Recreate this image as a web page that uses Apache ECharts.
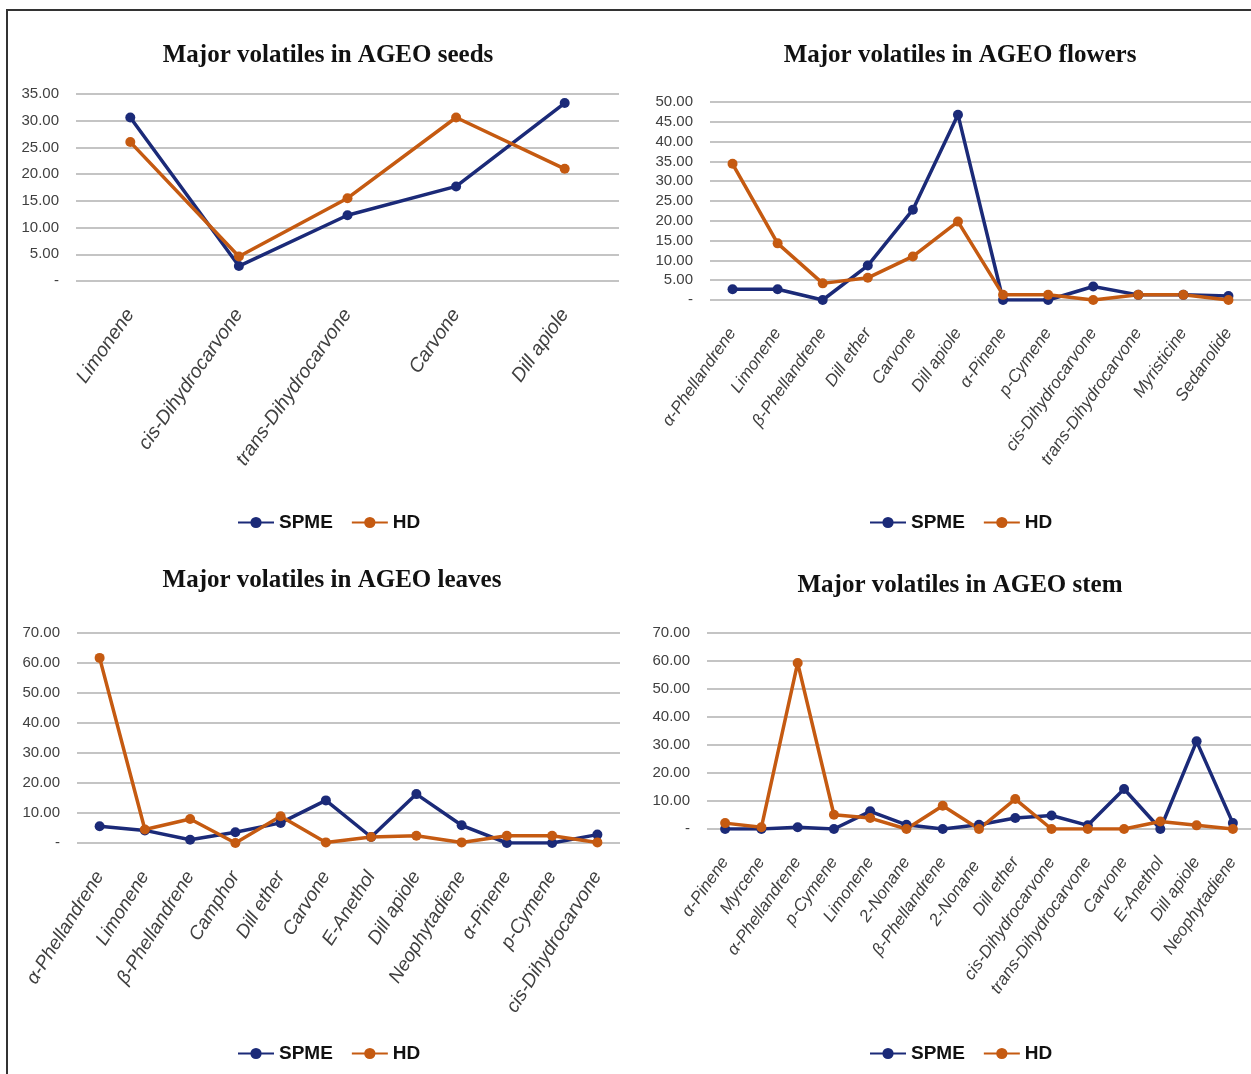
<!DOCTYPE html>
<html>
<head>
<meta charset="utf-8">
<script src="https://cdn.jsdelivr.net/npm/echarts@6/dist/echarts.min.js"></script>
<style>
html,body{margin:0;padding:0;background:#fff;}
#chart{width:1251px;height:1074px;}
</style>
</head>
<body>
<div id="chart"></div>
<script>
// ---- Data ----
const seriesNames = ['SPME', 'HD'];

const seedsCategories = ['Limonene', 'cis-Dihydrocarvone', 'trans-Dihydrocarvone', 'Carvone', 'Dill apiole'];
const seedsSPME = [30.6, 2.8, 12.3, 17.7, 33.3];
const seedsHD   = [26.0, 4.6, 15.5, 30.6, 21.0];

const flowersCategories = ['α-Phellandrene', 'Limonene', 'β-Phellandrene', 'Dill ether', 'Carvone', 'Dill apiole', 'α-Pinene', 'p-Cymene', 'cis-Dihydrocarvone', 'trans-Dihydrocarvone', 'Myristicine', 'Sedanolide'];
const flowersSPME = [2.7, 2.7, 0, 8.7, 22.8, 46.8, 0, 0, 3.4, 1.3, 1.3, 1.0];
const flowersHD   = [34.4, 14.3, 4.2, 5.6, 11.0, 19.8, 1.3, 1.3, 0, 1.3, 1.3, 0];

const leavesCategories = ['α-Phellandrene', 'Limonene', 'β-Phellandrene', 'Camphor', 'Dill ether', 'Carvone', 'E-Anethol', 'Dill apiole', 'Neophytadiene', 'α-Pinene', 'p-Cymene', 'cis-Dihydrocarvone'];
const leavesSPME = [5.6, 4.2, 1.1, 3.6, 6.7, 14.2, 2.0, 16.3, 5.9, 0, 0, 2.8];
const leavesHD   = [61.7, 4.5, 8.0, 0, 8.9, 0.2, 2.0, 2.4, 0.2, 2.4, 2.4, 0.2];

const stemCategories = ['α-Pinene', 'Myrcene', 'α-Phellandrene', 'p-Cymene', 'Limonene', '2-Nonane', 'β-Phellandrene', '2-Nonane ', 'Dill ether', 'cis-Dihydrocarvone', 'trans-Dihydrocarvone', 'Carvone', 'E-Anethol', 'Dill apiole', 'Neophytadiene'];
const stemSPME = [0, 0, 0.6, 0, 6.3, 1.5, 0, 1.5, 3.9, 4.8, 1.3, 14.3, 0, 31.3, 2.1];
const stemHD   = [2.1, 0.6, 59.3, 5.1, 3.9, 0, 8.3, 0, 10.7, 0, 0, 0, 2.7, 1.3, 0];

const titles = ['Major volatiles in AGEO seeds', 'Major volatiles in AGEO flowers', 'Major volatiles in AGEO leaves', 'Major volatiles in AGEO stem'];
const yMax = [35, 50, 70, 70];
const yInterval = [5, 5, 10, 10];

// ---- Styling ----
const colors = {SPME: '#1b2a78', HD: '#c55a11'};
const labelFont = '"Liberation Sans Narrow", "Liberation Sans", Arial, sans-serif';
const titleFont = '"Liberation Serif", "Times New Roman", serif';

const panels = [
  {cats: seedsCategories, spme: seedsSPME, hd: seedsHD, grid: {left: 76, top: 94, width: 543, height: 187}, titleX: 323, titleY: 38, legX: 232, legY: 508, xFont: 19.5, rot: 55},
  {cats: flowersCategories, spme: flowersSPME, hd: flowersHD, grid: {left: 710, top: 102, width: 541, height: 198}, titleX: 955, titleY: 38, legX: 864, legY: 508, xFont: 17, rot: 55},
  {cats: leavesCategories, spme: leavesSPME, hd: leavesHD, grid: {left: 77, top: 633, width: 543, height: 210}, titleX: 327, titleY: 563, legX: 232, legY: 1039, xFont: 19, rot: 58},
  {cats: stemCategories, spme: stemSPME, hd: stemHD, grid: {left: 707, top: 633, width: 544, height: 196}, titleX: 955, titleY: 568, legX: 864, legY: 1039, xFont: 17, rot: 55}
];

const option = {
  animation: false,
  backgroundColor: '#fff',
  title: [], legend: [], grid: [], xAxis: [], yAxis: [], series: [],
  graphic: [
    {type: 'line', shape: {x1: 6, y1: 10, x2: 1251, y2: 10}, style: {stroke: '#333', lineWidth: 2}},
    {type: 'line', shape: {x1: 7, y1: 10, x2: 7, y2: 1074}, style: {stroke: '#333', lineWidth: 2}}
  ]
};

panels.forEach((p, i) => {
  option.title.push({
    text: titles[i], left: p.titleX, top: p.titleY, textAlign: 'center',
    textStyle: {fontFamily: titleFont, fontWeight: 'bold', fontSize: 25, color: '#111'}
  });
  option.legend.push({
    data: seriesNames, left: p.legX, top: p.legY, itemWidth: 36, itemHeight: 14, itemGap: 18,
    textStyle: {fontFamily: labelFont, fontWeight: 'bold', fontSize: 19, color: '#111'}
  });
  option.grid.push(Object.assign({containLabel: false}, p.grid));
  option.xAxis.push({
    type: 'category', gridIndex: i, data: p.cats, boundaryGap: true,
    axisLine: {show: false}, axisTick: {show: false},
    axisLabel: {interval: 0, rotate: p.rot, margin: 30, fontFamily: labelFont, fontStyle: 'italic', fontSize: p.xFont, color: '#404040'}
  });
  option.yAxis.push({
    type: 'value', gridIndex: i, min: 0, max: yMax[i], interval: yInterval[i],
    axisLine: {show: false}, axisTick: {show: false},
    splitLine: {lineStyle: {color: '#c4c4c4', width: 2}},
    axisLabel: {margin: 17, fontFamily: labelFont, fontSize: 15, color: '#404040',
      formatter: v => v === 0 ? '-' : v.toFixed(2)}
  });
  [['SPME', p.spme], ['HD', p.hd]].forEach(([name, vals]) => {
    option.series.push({
      name, type: 'line', xAxisIndex: i, yAxisIndex: i, data: vals,
      symbol: 'circle', symbolSize: 10, color: colors[name],
      lineStyle: {width: 3.5, color: colors[name]}, itemStyle: {color: colors[name]}
    });
  });
});

const chart = echarts.init(document.getElementById('chart'), null, {renderer: 'canvas'});
chart.setOption(option);
</script>
</body>
</html>
